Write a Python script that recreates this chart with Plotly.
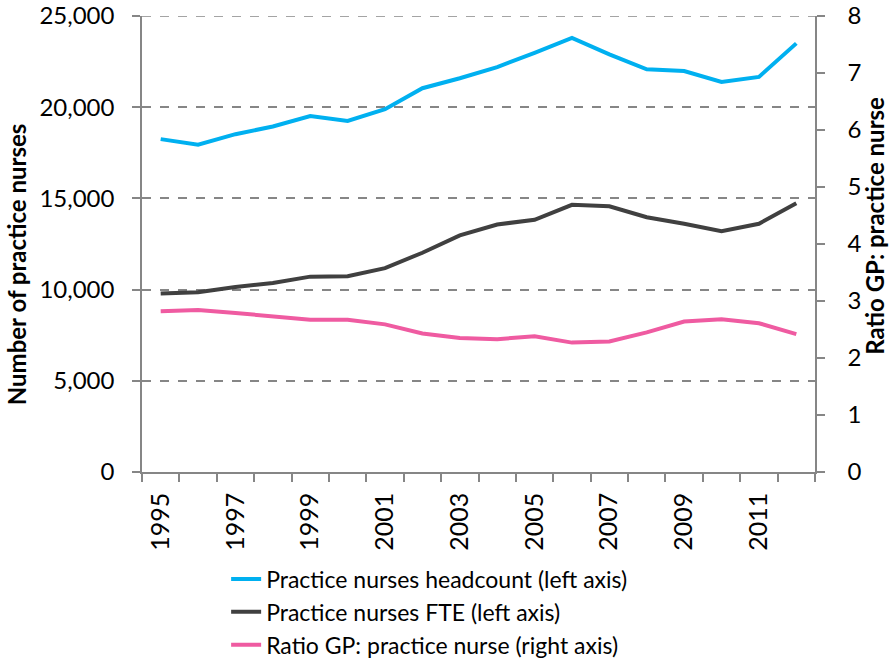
import plotly.graph_objects as go

years = list(range(1995, 2013))
headcount = [18250, 17940, 18520, 18940, 19510, 19250, 19890, 21040, 21590, 22200,
             22980, 23800, 22900, 22080, 21980, 21380, 21660, 23500]
fte = [9780, 9850, 10140, 10360, 10710, 10730, 11180, 12020, 12970, 13570,
       13830, 14650, 14570, 13970, 13610, 13200, 13610, 14730]
ratio = [2.82, 2.84, 2.79, 2.73, 2.67, 2.67, 2.59, 2.43, 2.35, 2.33,
         2.38, 2.27, 2.29, 2.45, 2.64, 2.68, 2.61, 2.42]
label_years = [y for y in years if y % 2 == 1]
left_ticks = [0, 5000, 10000, 15000, 20000, 25000]
right_ticks = list(range(9))

FONT = "Lato"
GREY = "#868686"

fig = go.Figure()
fig.add_trace(go.Scatter(x=years, y=headcount, mode="lines", name="Practice nurses headcount (left axis)",
                         line=dict(color="#00B0F0", width=4)))
fig.add_trace(go.Scatter(x=years, y=fte, mode="lines", name="Practice nurses FTE (left axis)",
                         line=dict(color="#404040", width=4)))
fig.add_trace(go.Scatter(x=years, y=ratio, mode="lines", name="Ratio GP: practice nurse (right axis)",
                         line=dict(color="#EF5BA1", width=4), yaxis="y2"))

# plotly drops the gridline sitting on the top edge, so draw that one by hand
fig.add_shape(type="line", xref="paper", yref="y", x0=0, x1=1, y0=left_ticks[-1], y1=left_ticks[-1],
              line=dict(color=GREY, width=1.5, dash="dash"), layer="below")

fig.update_layout(
    width=890, height=658,
    paper_bgcolor="white", plot_bgcolor="white",
    margin=dict(l=142, r=75, t=16, b=186, autoexpand=False),
    font=dict(family=FONT, size=24, color="black"),
    xaxis=dict(range=[years[0] - 0.5, years[-1] + 0.5], tickmode="array", tickvals=label_years,
               ticktext=[str(y) for y in label_years], tickangle=-90, ticks="",
               showgrid=False, zeroline=False, showline=True, linecolor=GREY, linewidth=1.5,
               ticklabelstandoff=9, tickfont=dict(size=25),
               minor=dict(ticks="outside", ticklen=8, tickcolor=GREY, tickwidth=1.5,
                          tick0=years[0] - 0.5, dtick=1, showgrid=False)),
    yaxis=dict(range=[0, 25000.5], tickmode="array", tickvals=left_ticks,
               tickformat=",", showgrid=True, gridcolor=GREY, ticklabeloverflow="allow",
               griddash="dash", gridwidth=1.5, zeroline=False, showline=True, linecolor=GREY,
               linewidth=1.5, ticks="outside", ticklen=8, tickcolor=GREY, tickwidth=1.5,
               ticklabelstandoff=13),
    yaxis2=dict(range=[0, 8.0002], tickmode="array", tickvals=right_ticks, overlaying="y",
                side="right", showgrid=False, zeroline=False, ticklabeloverflow="allow",
                showline=True, linecolor=GREY, linewidth=1.5, ticks="outside", ticklen=8,
                tickcolor=GREY, tickwidth=1.5, ticklabelstandoff=18),
    showlegend=True,
    legend=dict(x=0.125, y=-0.1875, xanchor="left", yanchor="top", font=dict(size=23),
                bgcolor="rgba(0,0,0,0)", tracegroupgap=0),
    annotations=[
        dict(text="<b>Number of practice nurses</b>", textangle=-90, xref="paper", yref="paper",
             x=-0.187, y=0.456, xanchor="center", yanchor="middle", showarrow=False,
             font=dict(size=24)),
        dict(text="<b>Ratio GP: practice nurse</b>", textangle=-90, xref="paper", yref="paper",
             x=1.089, y=0.54, xanchor="center", yanchor="middle", showarrow=False,
             font=dict(size=24)),
    ],
)

# drop the page's default 8px body margin so the figure fills the window
fig.write_html("out.html", config={"displayModeBar": False},
               post_script="document.body.style.margin='0';")
